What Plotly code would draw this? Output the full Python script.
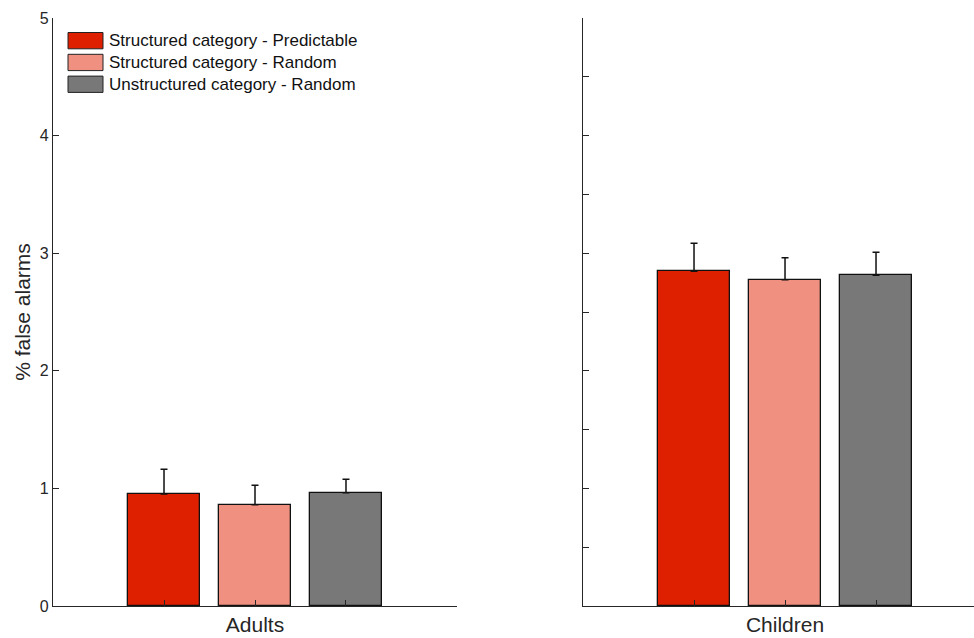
import plotly.graph_objects as go

groups = ["Adults", "Children"]
conditions = ["Structured category - Predictable", "Structured category - Random", "Unstructured category - Random"]
colors = ["#DE1F00", "#F09080", "#787878"]
adults_mean = [0.952, 0.861, 0.963]
adults_err = [0.210, 0.165, 0.114]
children_mean = [2.846, 2.775, 2.812]
children_err = [0.238, 0.187, 0.196]
positions = [1, 2, 3]
ylabel = "% false alarms"

W, H = 974, 638
ML, MR, MT, MB = 53, 0, 18, 32
PW = W - ML - MR
PH = H - MT - MB
TXT = "#262626"
FONT = "Liberation Sans, Arial, Helvetica, sans-serif"

fig = go.Figure()
for means, errs, xa, ya in [(adults_mean, adults_err, "x", "y"), (children_mean, children_err, "x2", "y2")]:
    for i in range(3):
        fig.add_trace(go.Bar(
            x=[positions[i]], y=[means[i]], width=0.8, name=conditions[i],
            marker=dict(color=colors[i], line=dict(color="#111111", width=1.3)),
            error_y=dict(type="data", array=[errs[i]], arrayminus=[0], symmetric=False,
                         color="#111111", thickness=1.5, width=3.5),
            xaxis=xa, yaxis=ya, showlegend=False))

xcommon = dict(showgrid=False, zeroline=False, showline=True, linecolor=TXT, linewidth=1.2,
               ticks="inside", ticklen=6, tickcolor=TXT, tickwidth=1.2, tickvals=positions,
               tickfont=dict(size=21, color=TXT, family=FONT))
ycommon = dict(range=[0, 5], showgrid=False, zeroline=False, showline=True, linecolor=TXT,
               linewidth=1.2, ticks="inside", ticklen=6, tickcolor=TXT, tickwidth=1.2)

left_end = (457 - ML) / PW
right_start = (583 - ML) / PW

fig.update_layout(
    width=W, height=H, margin=dict(l=ML, r=MR, t=MT, b=MB, autoexpand=False),
    paper_bgcolor="white", plot_bgcolor="white", bargap=0,
    font=dict(family=FONT, color=TXT),
    xaxis=dict(domain=[0, left_end], range=[-0.22, 4.22], ticktext=["", groups[0], ""], **xcommon),
    xaxis2=dict(domain=[right_start, 1], range=[-0.22, -0.22 + 391 / 91], ticktext=["", groups[1], ""], anchor="y2", **xcommon),
    yaxis=dict(tickvals=[0, 1, 2, 3, 4, 5], tickfont=dict(size=16, color=TXT, family=FONT),
               title=dict(text=ylabel, font=dict(size=21, color=TXT, family=FONT), standoff=3), **ycommon),
    yaxis2=dict(anchor="x2", tickvals=[0, 0.5, 1, 1.5, 2, 2.5, 3, 3.5, 4, 4.5, 5], showticklabels=False, **ycommon),
    showlegend=False,
)

# manual legend matching the reference swatch style
for i, name in enumerate(conditions):
    top = 32.5 + i * 21.8
    bot = top + 16.3
    fig.add_shape(type="rect", xref="paper", yref="paper",
                  x0=(68 - ML) / PW, x1=(103 - ML) / PW,
                  y0=1 - (bot - MT) / PH, y1=1 - (top - MT) / PH,
                  fillcolor=colors[i], line=dict(color="#222222", width=1))
    fig.add_annotation(xref="paper", yref="paper", x=(107 - ML) / PW, y=1 - ((top + bot) / 2 - MT) / PH,
                       text=name, showarrow=False, xanchor="left", yanchor="middle",
                       font=dict(size=17, color="#111111", family=FONT))

fig.write_html("out.html", config={"displayModeBar": False},
               post_script="document.body.style.margin='0';")
